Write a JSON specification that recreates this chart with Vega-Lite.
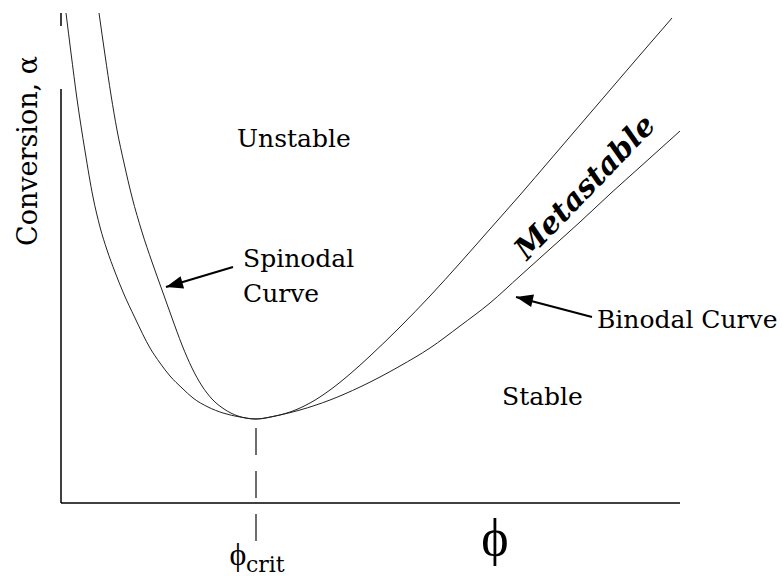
{
  "$schema": "https://vega.github.io/schema/vega-lite/v6.json",
  "width": 619,
  "height": 490,
  "autosize": "none",
  "padding": {"left": 61, "top": 13, "right": 102, "bottom": 73},
  "background": "white",
  "config": {"view": {"stroke": null}},
  "datasets": {
    "curves": [
      {"curve": "Spinodal", "phi": 38, "alpha": 490},
      {"curve": "Spinodal", "phi": 44, "alpha": 448},
      {"curve": "Spinodal", "phi": 50, "alpha": 408},
      {"curve": "Spinodal", "phi": 56, "alpha": 373},
      {"curve": "Spinodal", "phi": 63, "alpha": 340},
      {"curve": "Spinodal", "phi": 71, "alpha": 306},
      {"curve": "Spinodal", "phi": 81, "alpha": 271},
      {"curve": "Spinodal", "phi": 91, "alpha": 241},
      {"curve": "Spinodal", "phi": 101, "alpha": 213},
      {"curve": "Spinodal", "phi": 111, "alpha": 185},
      {"curve": "Spinodal", "phi": 121, "alpha": 158},
      {"curve": "Spinodal", "phi": 131, "alpha": 135},
      {"curve": "Spinodal", "phi": 141, "alpha": 117},
      {"curve": "Spinodal", "phi": 151, "alpha": 104},
      {"curve": "Spinodal", "phi": 163, "alpha": 94},
      {"curve": "Spinodal", "phi": 177, "alpha": 87},
      {"curve": "Spinodal", "phi": 195, "alpha": 84},
      {"curve": "Spinodal", "phi": 209, "alpha": 86},
      {"curve": "Spinodal", "phi": 229, "alpha": 91},
      {"curve": "Spinodal", "phi": 249, "alpha": 100},
      {"curve": "Spinodal", "phi": 269, "alpha": 113},
      {"curve": "Spinodal", "phi": 289, "alpha": 129},
      {"curve": "Spinodal", "phi": 309, "alpha": 147},
      {"curve": "Spinodal", "phi": 339, "alpha": 176},
      {"curve": "Spinodal", "phi": 369, "alpha": 207},
      {"curve": "Spinodal", "phi": 399, "alpha": 240},
      {"curve": "Spinodal", "phi": 429, "alpha": 274},
      {"curve": "Spinodal", "phi": 459, "alpha": 308},
      {"curve": "Spinodal", "phi": 489, "alpha": 343},
      {"curve": "Spinodal", "phi": 519, "alpha": 378},
      {"curve": "Spinodal", "phi": 549, "alpha": 413},
      {"curve": "Spinodal", "phi": 579, "alpha": 448},
      {"curve": "Spinodal", "phi": 611, "alpha": 485},
      {"curve": "Binodal", "phi": 5, "alpha": 490},
      {"curve": "Binodal", "phi": 10, "alpha": 450},
      {"curve": "Binodal", "phi": 16, "alpha": 404},
      {"curve": "Binodal", "phi": 24, "alpha": 352},
      {"curve": "Binodal", "phi": 32, "alpha": 306},
      {"curve": "Binodal", "phi": 39, "alpha": 276},
      {"curve": "Binodal", "phi": 46, "alpha": 253},
      {"curve": "Binodal", "phi": 54, "alpha": 231},
      {"curve": "Binodal", "phi": 62, "alpha": 211},
      {"curve": "Binodal", "phi": 74, "alpha": 185},
      {"curve": "Binodal", "phi": 89, "alpha": 155},
      {"curve": "Binodal", "phi": 99, "alpha": 140},
      {"curve": "Binodal", "phi": 109, "alpha": 127},
      {"curve": "Binodal", "phi": 121, "alpha": 115},
      {"curve": "Binodal", "phi": 132, "alpha": 105},
      {"curve": "Binodal", "phi": 147, "alpha": 96},
      {"curve": "Binodal", "phi": 162, "alpha": 90},
      {"curve": "Binodal", "phi": 179, "alpha": 86},
      {"curve": "Binodal", "phi": 195, "alpha": 84},
      {"curve": "Binodal", "phi": 219, "alpha": 88},
      {"curve": "Binodal", "phi": 239, "alpha": 93},
      {"curve": "Binodal", "phi": 269, "alpha": 103},
      {"curve": "Binodal", "phi": 299, "alpha": 116},
      {"curve": "Binodal", "phi": 319, "alpha": 126},
      {"curve": "Binodal", "phi": 339, "alpha": 137},
      {"curve": "Binodal", "phi": 369, "alpha": 155},
      {"curve": "Binodal", "phi": 399, "alpha": 177},
      {"curve": "Binodal", "phi": 429, "alpha": 200},
      {"curve": "Binodal", "phi": 459, "alpha": 227},
      {"curve": "Binodal", "phi": 489, "alpha": 254},
      {"curve": "Binodal", "phi": 519, "alpha": 281},
      {"curve": "Binodal", "phi": 549, "alpha": 309},
      {"curve": "Binodal", "phi": 579, "alpha": 336},
      {"curve": "Binodal", "phi": 599, "alpha": 354},
      {"curve": "Binodal", "phi": 619, "alpha": 372}
    ],
    "axes": [
      {"x1": 0, "x2": 619, "y1": 0, "y2": 0},
      {"x1": 0, "x2": 0, "y1": 0, "y2": 414},
      {"x1": 0, "x2": 0, "y1": 477, "y2": 490}
    ],
    "crit": [{"x1": 195, "x2": 195, "y1": 75, "y2": -45}],
    "arrows": [
      {"name": "Spinodal", "x1": 172, "y1": 236, "x2": 105, "y2": 216},
      {"name": "Binodal", "x1": 531, "y1": 186, "x2": 455, "y2": 206}
    ],
    "regionLabels": [
      {"text": "Unstable", "x": 176, "y": 356},
      {"text": "Spinodal", "x": 182, "y": 236},
      {"text": "Curve", "x": 182, "y": 201},
      {"text": "Binodal Curve", "x": 536, "y": 175},
      {"text": "Stable", "x": 441, "y": 98}
    ]
  },
  "layer": [
    {
      "data": {"name": "axes"},
      "mark": {"type": "rule", "color": "black", "strokeWidth": 1.5, "clip": false},
      "encoding": {
        "x": {"field": "x1", "type": "quantitative", "scale": {"domain": [0, 619]}, "axis": null},
        "x2": {"field": "x2"},
        "y": {"field": "y1", "type": "quantitative", "scale": {"domain": [0, 490]}, "axis": null},
        "y2": {"field": "y2"}
      }
    },
    {
      "data": {"name": "crit"},
      "mark": {"type": "rule", "color": "#222", "strokeWidth": 1.3, "strokeDash": [27, 16], "clip": false},
      "encoding": {
        "x": {"field": "x1", "type": "quantitative", "scale": {"domain": [0, 619]}, "axis": null},
        "x2": {"field": "x2"},
        "y": {"field": "y1", "type": "quantitative", "scale": {"domain": [0, 490]}, "axis": null},
        "y2": {"field": "y2"}
      }
    },
    {
      "data": {"name": "curves"},
      "mark": {"type": "line", "color": "#222", "strokeWidth": 1, "clip": false, "interpolate": "monotone"},
      "encoding": {
        "x": {"field": "phi", "type": "quantitative", "scale": {"domain": [0, 619]}, "axis": null},
        "y": {"field": "alpha", "type": "quantitative", "scale": {"domain": [0, 490]}, "axis": null},
        "detail": {"field": "curve"}
      }
    },
    {
      "data": {"name": "arrows"},
      "mark": {"type": "rule", "color": "black", "strokeWidth": 2, "clip": false},
      "encoding": {
        "x": {"field": "x1", "type": "quantitative", "scale": {"domain": [0, 619]}, "axis": null},
        "x2": {"field": "x2"},
        "y": {"field": "y1", "type": "quantitative", "scale": {"domain": [0, 490]}, "axis": null},
        "y2": {"field": "y2"}
      }
    },
    {
      "data": {"name": "arrows"},
      "transform": [{"filter": "datum.name === 'Spinodal'"}],
      "mark": {"type": "point", "shape": "M0,0L2,-0.75L2,0.75Z", "filled": true, "color": "black", "opacity": 1, "size": 289, "angle": -16, "clip": false},
      "encoding": {
        "x": {"field": "x2", "type": "quantitative", "scale": {"domain": [0, 619]}, "axis": null},
        "y": {"field": "y2", "type": "quantitative", "scale": {"domain": [0, 490]}, "axis": null}
      }
    },
    {
      "data": {"name": "arrows"},
      "transform": [{"filter": "datum.name === 'Binodal'"}],
      "mark": {"type": "point", "shape": "M0,0L2,-0.75L2,0.75Z", "filled": true, "color": "black", "opacity": 1, "size": 289, "angle": 13, "clip": false},
      "encoding": {
        "x": {"field": "x2", "type": "quantitative", "scale": {"domain": [0, 619]}, "axis": null},
        "y": {"field": "y2", "type": "quantitative", "scale": {"domain": [0, 490]}, "axis": null}
      }
    },
    {
      "data": {"name": "regionLabels"},
      "mark": {"type": "text", "font": "DejaVu Serif", "fontSize": 25, "align": "left", "baseline": "alphabetic", "color": "black", "clip": false},
      "encoding": {
        "x": {"field": "x", "type": "quantitative", "scale": {"domain": [0, 619]}, "axis": null},
        "y": {"field": "y", "type": "quantitative", "scale": {"domain": [0, 490]}, "axis": null},
        "text": {"field": "text"}
      }
    },
    {
      "data": {"values": [{"text": "Metastable", "x": 531, "y": 309}]},
      "mark": {"type": "text", "font": "DejaVu Serif", "fontSize": 30, "fontStyle": "italic", "fontWeight": "bold", "angle": -46, "align": "center", "baseline": "alphabetic", "color": "black", "clip": false},
      "encoding": {
        "x": {"field": "x", "type": "quantitative", "scale": {"domain": [0, 619]}, "axis": null},
        "y": {"field": "y", "type": "quantitative", "scale": {"domain": [0, 490]}, "axis": null},
        "text": {"field": "text"}
      }
    },
    {
      "data": {"values": [{"text": "Conversion, α", "x": -24, "y": 352}]},
      "mark": {"type": "text", "font": "DejaVu Serif", "fontSize": 27, "angle": -90, "align": "center", "baseline": "alphabetic", "color": "black", "clip": false},
      "encoding": {
        "x": {"field": "x", "type": "quantitative", "scale": {"domain": [0, 619]}, "axis": null},
        "y": {"field": "y", "type": "quantitative", "scale": {"domain": [0, 490]}, "axis": null},
        "text": {"field": "text"}
      }
    },
    {
      "data": {"values": [{"text": "ϕ", "x": 434, "y": -36}]},
      "mark": {"type": "text", "font": "Liberation Serif", "fontSize": 52, "align": "center", "baseline": "middle", "color": "black", "clip": false},
      "encoding": {
        "x": {"field": "x", "type": "quantitative", "scale": {"domain": [0, 619]}, "axis": null},
        "y": {"field": "y", "type": "quantitative", "scale": {"domain": [0, 490]}, "axis": null},
        "text": {"field": "text"}
      }
    },
    {
      "data": {"values": [{"text": "ϕ", "x": 177, "y": -52}]},
      "mark": {"type": "text", "font": "Liberation Serif", "fontSize": 32, "align": "center", "baseline": "middle", "color": "black", "clip": false},
      "encoding": {
        "x": {"field": "x", "type": "quantitative", "scale": {"domain": [0, 619]}, "axis": null},
        "y": {"field": "y", "type": "quantitative", "scale": {"domain": [0, 490]}, "axis": null},
        "text": {"field": "text"}
      }
    },
    {
      "data": {"values": [{"text": "crit", "x": 185, "y": -69}]},
      "mark": {"type": "text", "font": "DejaVu Serif", "fontSize": 22, "align": "left", "baseline": "alphabetic", "color": "black", "clip": false},
      "encoding": {
        "x": {"field": "x", "type": "quantitative", "scale": {"domain": [0, 619]}, "axis": null},
        "y": {"field": "y", "type": "quantitative", "scale": {"domain": [0, 490]}, "axis": null},
        "text": {"field": "text"}
      }
    }
  ]
}
